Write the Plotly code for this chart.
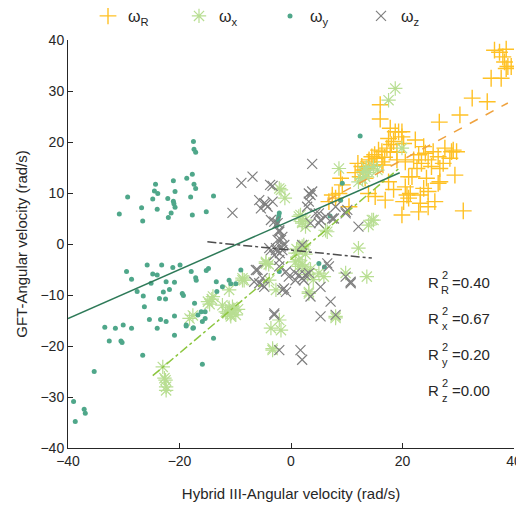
import plotly.graph_objects as go

# ---------------- data ----------------
series_names = ["ω<sub>R</sub>", "ω<sub>x</sub>", "ω<sub>y</sub>", "ω<sub>z</sub>"]

R_x = [36.5, 37.4, 38.6, 38.0, 38.3, 38.9, 39.5, 38.6, 35.9, 37.7, 32.5, 35.2, 30.3, 26.6, 19.9, 22.3,
       23.8, 27.6, 29.1, 29.7, 25.5, 24.1, 22.9, 26.4, 28.5, 22.0, 24.6, 20.5, 23.4, 27.3, 25.2, 26.7,
       22.6, 29.4, 21.1, 24.3, 26.7, 20.5, 23.8, 24.6, 21.4, 23.2, 21.1, 25.8, 23.2, 24.6, 22.9, 30.9,
       19.9, 20.2, 16.0, 16.0, 18.7, 19.9, 17.5, 18.4, 20.2, 17.2, 15.7, 17.8, 14.5, 15.4, 13.9, 16.3,
       12.7, 14.8, 19.0, 8.9, 13.3, 17.5, 21.7, 13.9, 15.1, 7.4, 8.6, 6.8, 10.4, 16.9, 18.4, 20.8,
       26.4, 28.8, 17.8, 19.3, 13.0, 13.9, 9.2, 8.0, 12.4, 16.3, 18.0, 19.0, 16.8, 14.0, 15.0, 16.5,
       11.5, 12.0]
R_y = [38.0, 37.6, 38.2, 36.7, 35.7, 34.8, 34.8, 34.4, 32.5, 32.5, 28.6, 27.9, 25.3, 23.9, 22.0, 20.4,
       19.1, 18.8, 18.4, 18.1, 18.1, 17.8, 17.5, 17.1, 16.8, 16.5, 16.5, 16.1, 15.8, 15.8, 15.2, 14.8,
       14.8, 13.5, 13.2, 12.9, 12.2, 11.2, 10.9, 10.3, 9.9, 9.6, 9.0, 8.3, 8.0, 7.3, 6.3, 6.5,
       5.7, 8.3, 27.3, 24.5, 22.0, 21.0, 20.7, 20.1, 19.7, 18.8, 18.4, 18.1, 17.1, 16.8, 16.1, 16.1,
       15.2, 15.5, 16.5, 12.9, 12.9, 12.2, 13.2, 9.9, 9.3, 9.6, 9.9, 8.3, 7.3, 8.6, 10.7, 9.6,
       11.9, 18.1, 22.7, 22.0, 14.5, 14.8, 11.6, 9.0, 13.2, 18.1, 19.5, 18.0, 17.0, 16.5, 17.5, 15.5,
       14.0, 15.8]

X_x = [-23.0, -22.7, -22.4, -22.5, -22.4, -18.2, -17.6, -14.9, -14.0, -14.6, -11.7, -11.1, -10.5, -10.8,
       -11.4, -9.9, -9.5, -8.7, -8.7, -11.1, -4.5, -4.0, -4.5, -3.9, -8.4, -2.7, -2.1, -3.6, -1.8, -3.3,
       -3.3, 1.4, 0.8, 1.4, 2.0, 2.0, 2.0, 0.8, 2.6, 2.3, -1.8, -1.1, -2.1, 1.4, 1.7, 2.0, 2.6, 2.6,
       2.0, 8.6, 6.2, 6.5, 14.5, 13.9, 14.8, 12.1, 5.0, 5.9, 9.8, 13.6, 3.2, 3.2, 8.0, 8.0, 18.7, 17.5,
       19.9, 13.0, 13.3, 14.8, 14.0, 13.5, 12.1, 12.8, 15.5, 2.5, 3.0, 4.0, 3.5, 1.0, -10.2, -10.9,
       -14.2, -12.3]
X_y = [-24.1, -26.3, -28.0, -26.7, -28.7, -14.6, -14.0, -11.3, -10.3, -11.8, -13.3, -12.5, -12.3, -14.2,
       -13.6, -13.9, -12.8, -7.1, -6.7, -9.0, -3.5, -4.0, -3.8, -7.1, -7.1, -9.0, -14.9, -16.5, -16.9, -20.5,
       -20.8, -4.4, -3.5, -3.1, -4.1, -0.8, -0.5, -1.8, -2.0, -0.2, 10.6, 9.0, 10.9, 5.4, 5.7, 4.4, 3.4, 4.7,
       4.1, 14.8, 2.7, 2.4, 4.7, 3.7, 4.7, -0.8, -5.7, -6.4, -5.7, -6.4, -9.7, -9.4, -14.2, -14.5, 30.5, 28.2,
       18.8, 14.2, 13.2, 15.2, 14.0, 15.0, 12.2, 12.8, 14.5, -4.5, -6.0, -7.0, -5.0, -1.0, -13.0, -13.8,
       -10.8, -12.0]

Y_x = [-17.5, -17.4, -17.1, -17.7, -18.7, -21.1, -24.3, -17.4, -17.1, -24.5, -23.9, -20.8, -29.3, -24.8,
       -22.1, -18.0, -13.9, -21.1, -21.0, -20.8, -26.8, -24.0, -30.8, -21.5, -17.7, -15.2, -22.0, -26.6,
       -2.1, -2.2, -2.3, -2.4, -2.6, -2.1,
       -29.5, -28.6, -25.8, -23.2, -24.8, -24.0, -25.1, -27.6, -26.5, -21.2, -19.9, -22.4, -20.9, -21.8,
       -22.9, -23.6, -22.5, -19.5, -19.3, -17.9, -17.1, -17.0, -15.2, -14.8, -13.4, -13.3, -12.3, -11.1,
       -10.8, -9.9, -9.0, -26.3, -25.4, -23.4, -22.4, -24.0, -20.9, -20.9, -18.8, -17.5, -16.7, -16.1,
       -15.4, -15.4, -15.9, -33.4, -31.5, -30.1, -28.6, -32.6, -30.5, -30.3, -26.6, -35.3, -15.9, -13.9,
       -39.0, -37.1, -36.9, -38.7, -17.6, -18.8, -17.3,
       9.2, 8.9, 5.0, 12.4, 6.0, 7.0]
Y_y = [20.1, 18.6, 18.0, 13.7, 12.9, 12.4, 11.7, 11.7, 10.9, 10.4, 9.9, 10.3, 9.2, 8.8,
       8.9, 9.2, 9.4, 8.4, 7.9, 7.2, 7.1, 6.8, 5.9, 6.1, 5.7, 6.3, 5.2, 4.5,
       6.1, 5.5, 4.9, 4.4, 3.6, -5.4,
       -5.4, -6.9, -4.1, -4.1, -5.9, -6.1, -7.7, -9.3, -10.2, -4.6, -4.1, -7.4, -7.5, -8.9,
       -9.4, -10.7, -10.8, -9.7, -10.1, -5.4, -6.6, -7.1, -5.2, -4.8, -7.4, -9.3, -8.4, -7.1,
       -7.8, -7.8, -5.1, -12.3, -14.8, -14.8, -15.2, -16.5, -14.1, -17.9, -16.1, -16.4, -13.9, -13.3,
       -13.3, -14.6, -15.2, -16.3, -16.5, -15.9, -16.5, -19.0, -19.0, -19.3, -21.8, -25.0, -23.6, -18.5,
       -30.9, -32.4, -33.2, -34.8, -16.5, -15.9, -11.6,
       11.9, 8.6, -3.8, 21.2, -4.5, 5.5]

Z_x = [-8.9, -6.9, -10.5, -3.75, -3.3, -5.7, -4.8, -4.2, -3.3, -5.4, -4.5, -3.6, -3.0, -2.4, -2.1, -1.55,
       -2.1, -2.4, -1.8, -3.9, -2.7, -1.55, -3.0, -2.1, -2.1, -1.8, -2.7, -3.6, -2.0, -1.2,
       3.8, 3.2, 3.8, 3.5, 3.2, 2.9, 5.0, 6.2, 7.7, 8.0, 9.8, 3.5, 5.0, 12.1, 4.4, 5.3, 7.4, 9.8, 10.1, 2.0,
       -6.3, -6.0, -0.9, -0.4, 0.8, 2.0, 3.2, 1.4, 0.8, -5.1, -5.7, -4.8, -6.6, -5.1, -1.55, -0.9, -1.25,
       6.5, 6.8, 9.8, 10.7, 10.7, 2.6, 2.3, 5.3, 3.5, 7.1, 5.3, 8.0, -3.0, -2.1, 1.7, 2.0, -3.0]
Z_y = [12.0, 13.2, 6.1, 11.6, 11.4, 8.6, 8.0, 7.3, 8.3, 7.0, 7.8, 4.7, 4.4, 4.1, 2.7, 1.4,
       2.4, 0.8, -0.5, -0.8, -1.2, -1.2, -2.2, -3.1, -4.4, 0.8, -0.8, -1.2, -1.8, -0.2,
       15.7, 9.9, 10.3, 9.6, 8.3, 7.3, 6.0, 5.4, 5.0, 7.3, 6.3, 4.1, 4.1, 3.4, 6.0, 4.7, 5.0, 6.0, 6.7, -0.2,
       -5.1, -5.1, -5.4, -6.4, -5.7, -6.7, -5.7, -6.1, -7.1, -6.7, -7.7, -8.4, -7.4, -8.0, -9.0, -9.4, -8.7,
       -3.8, -4.4, -6.4, -7.4, -7.7, -6.1, -7.1, -8.4, -10.3, -11.3, -14.2, -13.9, -13.6, -20.8, -20.8, -22.7, -13.9]

# linear fits
fit_slope = [0.59, 0.92, 0.48, -0.108]
fit_intercept = [4.7, -3.0, 4.6, -1.2]
fit_xmin = [6.5, -24.8, -40.0, -15.0]
fit_xmax = [38.9, 19.6, 19.5, 14.5]

r2_labels = ["R", "x", "y", "z"]
r2_values = ["0.40", "0.67", "0.20", "0.00"]

x_ticks = [-40, -20, 0, 20, 40]
y_ticks = [-40, -30, -20, -10, 0, 10, 20, 30, 40]

# ---------------- styles ----------------
FONT = "Liberation Sans, Arial, sans-serif"
TXT = "#262626"
c_R, c_X, c_Y, c_Z = "#FFC125", "#B8DE92", "#4FA78A", "#7F7F7F"
fit_colors = ["#EFA23E", "#8CC63F", "#2E7A58", "#4D4D4D"]
fit_dash = ["dash", "dashdot", "solid", "dashdot"]

fig = go.Figure()
fig.add_trace(go.Scatter(x=R_x, y=R_y, mode="markers", name=series_names[0],
                         marker=dict(symbol="cross-thin", size=12, line=dict(color=c_R, width=1.4))))
fig.add_trace(go.Scatter(x=X_x, y=X_y, mode="markers", name=series_names[1],
                         marker=dict(symbol="asterisk", size=12, line=dict(color=c_X, width=1.2))))
fig.add_trace(go.Scatter(x=Y_x, y=Y_y, mode="markers", name=series_names[2],
                         marker=dict(symbol="circle", size=5, color=c_Y)))
fig.add_trace(go.Scatter(x=Z_x, y=Z_y, mode="markers", name=series_names[3],
                         marker=dict(symbol="x-thin", size=10, line=dict(color=c_Z, width=1.2))))

for i in range(4):
    xs = [fit_xmin[i], fit_xmax[i]]
    ys = [fit_intercept[i] + fit_slope[i] * v for v in xs]
    fig.add_trace(go.Scatter(x=xs, y=ys, mode="lines", showlegend=False, hoverinfo="skip",
                             line=dict(color=fit_colors[i], dash=fit_dash[i], width=1.5)))

# The page body adds an 8px margin, so the figure is 516x498 and coordinates are shifted by 8px.
FW, FH = 516, 498
L, T, R, B = 60, 32, 10, 58
W, H = FW - L - R, FH - T - B
def px(xp):
    return (xp - L) / W
def py(yp):
    return (T + H - yp) / H
rows_y = [274, 310, 346, 382]
anns = []
for lab, val, yy in zip(r2_labels, r2_values, rows_y):
    anns.append(dict(text="R", x=px(432), y=py(yy), xref="paper", yref="paper", showarrow=False,
                     font=dict(size=15, color=TXT, family=FONT), xanchor="right", yanchor="middle",
                     borderpad=0))
    anns.append(dict(text="2", x=px(437), y=py(yy - 7), xref="paper", yref="paper", showarrow=False,
                     font=dict(size=11, color=TXT, family=FONT), xanchor="center", yanchor="middle",
                     borderpad=0))
    anns.append(dict(text=lab, x=px(437), y=py(yy + 8), xref="paper", yref="paper", showarrow=False,
                     font=dict(size=11, color=TXT, family=FONT), xanchor="center", yanchor="middle",
                     borderpad=0))
    anns.append(dict(text="=" + val, x=px(443), y=py(yy), xref="paper", yref="paper", showarrow=False,
                     font=dict(size=15, color=TXT, family=FONT), xanchor="left", yanchor="middle",
                     borderpad=0))

axis_common = dict(showline=True, linecolor=TXT, linewidth=1, ticks="inside", ticklen=5,
                   tickcolor=TXT, showgrid=False, zeroline=False, mirror=False,
                   tickfont=dict(size=14, color=TXT, family=FONT))

fig.update_layout(
    width=FW, height=FH,
    margin=dict(l=L, r=R, t=T, b=B, autoexpand=False),
    plot_bgcolor="white", paper_bgcolor="white",
    font=dict(family=FONT, color=TXT),
    xaxis=dict(range=[-40, 40], tickvals=x_ticks, **axis_common,
               title=dict(text="Hybrid III-Angular velocity (rad/s)", font=dict(size=15, color=TXT, family=FONT),
                          standoff=20)),
    yaxis=dict(range=[-40, 40], tickvals=y_ticks, **axis_common,
               title=dict(text="GFT-Angular velocity (rad/s)", font=dict(size=15, color=TXT, family=FONT),
                          standoff=9)),
    showlegend=True,
    legend=dict(orientation="h", x=px(80), xanchor="left", yref="paper", y=py(-9), yanchor="top",
                entrywidth=46, font=dict(size=16, color=TXT, family=FONT), bgcolor="rgba(0,0,0,0)",
                tracegroupgap=0),
    annotations=anns,
)

fig.write_html("out.html")
